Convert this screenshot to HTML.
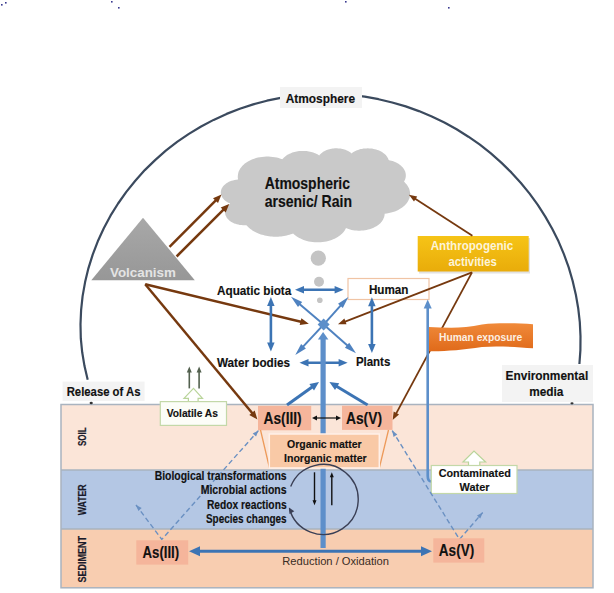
<!DOCTYPE html><html><head><meta charset="utf-8"><style>html,body{margin:0;padding:0;background:#fff;}svg{display:block;font-family:"Liberation Sans",sans-serif;}</style></head><body>
<svg width="614" height="593" viewBox="0 0 614 593">
<defs><linearGradient id="vg" x1="0" y1="0" x2="0" y2="1"><stop offset="0" stop-color="#a8a8a8"/><stop offset="1" stop-color="#979797"/></linearGradient><linearGradient id="ag" x1="0" y1="0" x2="0" y2="1"><stop offset="0" stop-color="#f6c417"/><stop offset="1" stop-color="#e9ac0a"/></linearGradient><linearGradient id="hg" x1="0" y1="0" x2="0" y2="1"><stop offset="0" stop-color="#f08a3a"/><stop offset="1" stop-color="#e06a1a"/></linearGradient></defs>
<rect x="1" y="4" width="1.6" height="1.6" fill="#3a3a90"/>
<rect x="5" y="2" width="1.6" height="1.6" fill="#3a3a90"/>
<rect x="111" y="1" width="1.6" height="1.6" fill="#3a3a90"/>
<rect x="118" y="7" width="1.6" height="1.6" fill="#3a3a90"/>
<rect x="345" y="1" width="1.6" height="1.6" fill="#3a3a90"/>
<rect x="448" y="7" width="1.6" height="1.6" fill="#3a3a90"/>
<path d="M87.7,379.7 L84.5,366.1 L82.2,352.3 L80.8,338.4 L80.5,324.3 L81.1,310.2 L82.6,296.1 L85.1,282.1 L88.4,268.3 L92.7,254.6 L97.8,241.3 L103.8,228.3 L110.5,215.7 L118.1,203.5 L126.3,191.9 L135.3,180.7 L144.8,170.1 L155.1,160.1 L165.8,150.7 L177.1,141.9 L188.9,133.9 L201.1,126.5 L213.6,119.9 L226.6,113.9 L239.8,108.8 L253.2,104.4 L266.9,100.7 L280.7,97.8 L294.7,95.7 L308.7,94.4 L322.8,93.8 L336.9,94.0 L350.9,95.0 L364.8,96.7 L378.6,99.2 L392.2,102.5 L405.7,106.4 L418.9,111.1 L431.8,116.5 L444.4,122.5 L456.6,129.3 L468.4,136.7 L479.9,144.7 L490.9,153.4 L501.3,162.6 L511.3,172.4 L520.7,182.7 L529.6,193.6 L537.8,204.9 L545.3,216.6 L552.2,228.8 L558.5,241.3 L563.9,254.2 L568.7,267.4 L572.6,280.8 L575.8,294.4 L578.2,308.2 L579.8,322.1 L580.5,336.1 L580.4,350.1 L579.4,364.0" fill="none" stroke="#3b4a5e" stroke-width="2.2" stroke-linejoin="round"/>
<rect x="61" y="404" width="532" height="66" fill="#fbe5d8"/>
<rect x="61" y="470" width="532" height="59" fill="#b4c7e4"/>
<rect x="61" y="529" width="532" height="59" fill="#f8cdb0"/>
<g stroke="#a9b3bf" stroke-width="1.5" fill="none"><rect x="61" y="404.5" width="532" height="183.3"/><line x1="61" y1="470" x2="593" y2="470"/><line x1="61" y1="529" x2="593" y2="529"/></g>
<text transform="translate(86.2,436.7) rotate(-90)" font-size="11" font-weight="bold" fill="#1a1a2a" stroke="#1a1a2a" stroke-width="0.2" x="-9.3" y="0" textLength="18.6" lengthAdjust="spacingAndGlyphs">SOIL</text>
<text transform="translate(86.2,499.8) rotate(-90)" font-size="11" font-weight="bold" fill="#1a1a2a" stroke="#1a1a2a" stroke-width="0.2" x="-15.5" y="0" textLength="31.0" lengthAdjust="spacingAndGlyphs">WATER</text>
<text transform="translate(86.2,559.3) rotate(-90)" font-size="11" font-weight="bold" fill="#1a1a2a" stroke="#1a1a2a" stroke-width="0.2" x="-23.2" y="0" textLength="46.5" lengthAdjust="spacingAndGlyphs">SEDIMENT</text>
<ellipse cx="91.2" cy="403" rx="1.6" ry="1.2" fill="#333"/><ellipse cx="572" cy="403.3" rx="1.6" ry="1.1" fill="#333"/>
<rect x="280" y="87" width="82" height="21" fill="#f3f3f3"/>
<text x="285.7" y="103.0" font-size="12.5" font-weight="bold" fill="#111" textLength="69.3" lengthAdjust="spacingAndGlyphs" stroke="#111" stroke-width="0.15">Atmosphere</text>
<rect x="62.6" y="381.6" width="82" height="19.4" fill="#f3f3f3"/>
<text x="66.7" y="396.0" font-size="12.5" font-weight="bold" fill="#111" textLength="73.8" lengthAdjust="spacingAndGlyphs" stroke="#111" stroke-width="0.15">Release of As</text>
<rect x="502" y="365" width="91" height="37" fill="#f3f3f3"/>
<text x="505.6" y="379.5" font-size="12" font-weight="bold" fill="#111" textLength="82.6" lengthAdjust="spacingAndGlyphs" stroke="#111" stroke-width="0.15">Environmental</text>
<text x="529.2" y="396.0" font-size="12" font-weight="bold" fill="#111" textLength="34.2" lengthAdjust="spacingAndGlyphs" stroke="#111" stroke-width="0.15">media</text>
<path d="M238.1,179.3L237.9,178.5L237.8,177.7L237.8,176.9L237.8,176.1L237.9,175.3L238.0,174.5L238.1,173.7L238.3,172.9L238.5,172.1L238.8,171.3L239.2,170.5L239.6,169.7L240.1,168.8L240.6,168.0L241.3,167.2L242.0,166.3L242.7,165.5L243.6,164.7L244.5,163.8L245.6,163.0L246.8,162.2L248.0,161.4L249.4,160.7L250.9,160.0L252.5,159.3L254.2,158.7L256.0,158.1L257.9,157.6L259.9,157.2L262.0,156.9L264.2,156.7L266.3,156.6L268.5,156.6L270.6,156.7L272.8,156.9L274.8,157.2L276.8,157.6L278.7,158.1L280.6,158.7L282.3,159.3L282.7,158.8L283.1,158.4L283.5,157.9L284.0,157.4L284.6,156.9L285.2,156.5L285.8,156.0L286.4,155.5L287.1,155.1L287.9,154.6L288.7,154.2L289.5,153.8L290.4,153.4L291.4,153.0L292.3,152.6L293.4,152.3L294.4,152.0L295.6,151.7L296.7,151.5L297.9,151.3L299.1,151.1L300.3,151.0L301.6,150.9L302.8,150.9L304.0,150.9L305.3,151.0L306.5,151.1L307.7,151.3L308.9,151.5L310.1,151.7L311.2,152.0L312.3,152.3L313.3,152.6L314.3,152.9L315.2,153.3L316.1,153.7L317.0,154.1L317.8,154.6L318.5,155.0L319.2,155.5L319.6,155.0L319.9,154.6L320.3,154.2L320.8,153.7L321.3,153.3L321.8,152.9L322.3,152.4L322.9,152.0L323.6,151.6L324.3,151.2L325.0,150.8L325.8,150.5L326.6,150.1L327.5,149.8L328.4,149.5L329.4,149.2L330.4,148.9L331.5,148.7L332.6,148.6L333.7,148.4L334.8,148.3L335.9,148.3L337.0,148.3L338.2,148.4L339.3,148.5L340.4,148.6L341.4,148.8L342.5,149.0L343.5,149.2L344.4,149.5L345.4,149.8L346.2,150.2L347.1,150.5L347.8,150.9L348.6,151.3L349.2,151.7L349.9,152.1L350.5,152.5L351.0,153.0L351.5,153.4L352.3,152.8L353.1,152.3L353.9,151.8L354.9,151.3L355.9,150.8L357.0,150.3L358.1,149.9L359.3,149.5L360.6,149.1L362.0,148.9L363.4,148.6L364.8,148.5L366.3,148.4L367.8,148.3L369.2,148.4L370.7,148.5L372.1,148.6L373.5,148.9L374.9,149.2L376.1,149.5L377.4,149.9L378.5,150.3L379.6,150.8L380.6,151.3L381.6,151.8L382.4,152.3L383.2,152.9L384.0,153.4L384.6,154.0L385.2,154.5L385.8,155.1L386.3,155.7L386.7,156.2L387.1,156.8L387.5,157.4L387.8,157.9L388.1,158.5L388.3,159.0L388.5,159.6L388.6,160.1L390.0,160.4L391.4,160.8L392.6,161.1L393.9,161.6L395.0,162.0L396.1,162.5L397.1,163.0L398.0,163.6L398.9,164.1L399.7,164.7L400.4,165.3L401.1,165.8L401.7,166.4L402.3,167.0L402.8,167.6L403.3,168.2L403.7,168.7L404.0,169.3L404.4,169.9L404.7,170.5L404.9,171.0L405.2,171.6L405.3,172.1L405.5,172.7L405.6,173.3L405.7,173.8L405.8,174.4L405.8,174.9L405.8,175.5L405.8,176.0L405.8,176.6L405.7,177.1L405.6,177.7L405.5,178.2L405.3,178.8L405.1,179.4L404.9,179.9L404.6,180.5L404.3,181.1L404.0,181.6L404.9,182.5L405.7,183.4L406.5,184.3L407.2,185.2L407.7,186.0L408.2,186.9L408.7,187.8L409.1,188.6L409.4,189.5L409.6,190.3L409.8,191.2L410.0,192.0L410.1,192.8L410.1,193.7L410.1,194.5L410.0,195.4L409.9,196.2L409.7,197.0L409.5,197.9L409.2,198.7L408.8,199.6L408.4,200.5L408.0,201.3L407.4,202.2L406.8,203.1L406.1,204.0L405.3,204.8L404.4,205.7L403.4,206.6L402.2,207.5L401.0,208.3L399.7,209.1L398.2,209.9L396.6,210.7L394.9,211.4L393.0,212.0L391.1,212.6L389.0,213.1L386.9,213.4L384.6,213.7L384.6,214.3L384.6,215.0L384.5,215.6L384.3,216.2L384.2,216.9L384.0,217.5L383.7,218.1L383.4,218.8L383.1,219.4L382.8,220.1L382.3,220.7L381.9,221.4L381.3,222.0L380.8,222.7L380.1,223.4L379.4,224.0L378.6,224.7L377.8,225.3L376.9,225.9L375.9,226.6L374.8,227.1L373.6,227.7L372.4,228.3L371.0,228.8L369.6,229.2L368.1,229.6L366.6,230.0L365.0,230.3L363.3,230.5L361.6,230.6L359.9,230.7L358.2,230.7L356.5,230.6L354.8,230.4L353.2,230.2L351.6,229.9L350.1,229.5L348.6,229.1L347.2,228.6L345.9,228.1L345.6,228.9L345.2,229.6L344.7,230.4L344.1,231.2L343.6,231.9L342.9,232.7L342.2,233.5L341.3,234.3L340.5,235.0L339.5,235.8L338.4,236.6L337.3,237.3L336.0,238.0L334.6,238.7L333.2,239.3L331.6,240.0L330.0,240.5L328.3,241.0L326.4,241.4L324.5,241.8L322.6,242.1L320.6,242.2L318.6,242.3L316.6,242.3L314.6,242.2L312.6,242.0L310.6,241.8L308.7,241.4L306.9,241.0L305.2,240.5L303.6,239.9L302.0,239.3L300.6,238.6L299.2,238.0L298.0,237.2L296.8,236.5L295.8,235.7L294.8,235.0L293.9,234.2L293.1,233.4L291.9,233.9L290.7,234.3L289.5,234.7L288.1,235.1L286.8,235.4L285.4,235.7L284.0,236.0L282.5,236.2L281.1,236.4L279.6,236.6L278.1,236.7L276.5,236.7L275.0,236.7L273.5,236.7L272.0,236.6L270.5,236.4L269.0,236.3L267.6,236.0L266.1,235.8L264.7,235.5L263.4,235.1L262.1,234.8L260.8,234.4L259.6,233.9L258.4,233.5L257.3,233.0L256.2,232.5L255.2,232.0L254.2,231.5L253.3,230.9L252.4,230.4L251.6,229.8L250.8,229.2L250.0,228.7L249.3,228.1L248.7,227.5L248.0,226.9L247.5,226.3L246.9,225.8L246.4,225.2L244.7,225.3L243.1,225.2L241.5,225.1L239.8,224.9L238.3,224.6L236.8,224.3L235.5,223.8L234.2,223.4L233.0,222.8L231.9,222.3L230.9,221.7L230.0,221.0L229.3,220.4L228.6,219.8L227.9,219.1L227.4,218.5L226.9,217.9L226.5,217.2L226.2,216.6L225.9,216.0L225.6,215.4L225.4,214.8L225.3,214.1L225.2,213.5L225.1,212.9L225.1,212.3L225.1,211.7L225.2,211.1L225.3,210.5L225.5,209.9L225.7,209.3L225.9,208.6L226.2,208.0L226.6,207.4L227.0,206.8L227.5,206.1L228.1,205.5L228.7,204.8L229.4,204.2L230.2,203.6L229.0,203.0L227.8,202.5L226.8,201.8L225.9,201.2L225.0,200.5L224.3,199.9L223.7,199.2L223.1,198.6L222.6,197.9L222.2,197.2L221.9,196.6L221.6,195.9L221.3,195.3L221.1,194.7L221.0,194.0L220.9,193.4L220.8,192.8L220.8,192.1L220.9,191.5L221.0,190.9L221.1,190.2L221.3,189.6L221.5,189.0L221.8,188.3L222.2,187.7L222.6,187.0L223.1,186.3L223.6,185.7L224.3,185.0L225.0,184.4L225.8,183.7L226.8,183.1L227.8,182.4L228.9,181.8L230.2,181.3L231.5,180.8L233.0,180.4L234.6,180.0L236.2,179.7L237.9,179.6Z" fill="#c9c9c9"/>
<text x="264.7" y="188.8" font-size="17" font-weight="bold" fill="#111" textLength="85.3" lengthAdjust="spacingAndGlyphs" stroke="#111" stroke-width="0.15">Atmospheric</text>
<text x="264.7" y="206.6" font-size="17" font-weight="bold" fill="#111" textLength="87.3" lengthAdjust="spacingAndGlyphs" stroke="#111" stroke-width="0.15">arsenic/ Rain</text>
<circle cx="318.3" cy="258.2" r="7.6" fill="#c4c4c4"/><circle cx="319" cy="281.7" r="5" fill="#c4c4c4"/><circle cx="319.8" cy="300.3" r="2.8" fill="#c4c4c4"/>
<polygon points="143,217.8 91.3,280.2 194.8,280.2" fill="url(#vg)"/>
<text x="110.0" y="277.0" font-size="12" font-weight="bold" fill="#e4e4e4" textLength="65.9" lengthAdjust="spacingAndGlyphs">Volcanism</text>
<rect x="419" y="238" width="111" height="35.5" fill="#cfcfcf" opacity="0.6"/>
<rect x="417.7" y="236" width="111" height="35.5" fill="url(#ag)"/>
<text x="430.7" y="249.8" font-size="12" font-weight="bold" fill="#fdf4d8" textLength="82.6" lengthAdjust="spacingAndGlyphs">Anthropogenic</text>
<text x="448.4" y="266.0" font-size="12" font-weight="bold" fill="#fdf4d8" textLength="48.4" lengthAdjust="spacingAndGlyphs">activities</text>
<rect x="348" y="278.5" width="81" height="21" fill="#fff" stroke="#f0c4a4" stroke-width="1.2"/>
<text x="368.9" y="293.7" font-size="12" font-weight="bold" fill="#111" textLength="39.6" lengthAdjust="spacingAndGlyphs" stroke="#111" stroke-width="0.15">Human</text>
<line x1="169.5" y1="246.8" x2="217.3" y2="198.8" stroke="#76390f" stroke-width="2.5"/><polygon points="221.5,194.6 218.0,203.1 213.0,198.2" fill="#76390f"/>
<line x1="176.6" y1="256.5" x2="225.0" y2="208.1" stroke="#76390f" stroke-width="2.5"/><polygon points="229.2,203.9 225.7,212.4 220.7,207.4" fill="#76390f"/>
<line x1="145.2" y1="284.3" x2="303.0" y2="322.3" stroke="#76390f" stroke-width="2.5"/><polygon points="308.8,323.7 299.7,325.1 301.4,318.3" fill="#76390f"/>
<line x1="145.2" y1="284.3" x2="253.6" y2="414.8" stroke="#76390f" stroke-width="2.5"/><polygon points="257.4,419.4 249.3,415.1 254.7,410.6" fill="#76390f"/>
<line x1="472.4" y1="235.7" x2="413.6" y2="197.7" stroke="#76390f" stroke-width="1.8"/><polygon points="408.9,194.7 417.2,196.5 414.0,201.6" fill="#76390f"/>
<line x1="472.0" y1="272.4" x2="343.2" y2="322.3" stroke="#76390f" stroke-width="1.8"/><polygon points="338.0,324.3 344.4,318.6 346.5,324.2" fill="#76390f"/>
<line x1="472.0" y1="272.4" x2="395.3" y2="415.1" stroke="#76390f" stroke-width="1.8"/><polygon points="392.6,420.0 393.7,411.5 399.0,414.4" fill="#76390f"/>
<line x1="301.3" y1="289.8" x2="337.3" y2="289.8" stroke="#3c74b4" stroke-width="2.6"/><polygon points="343.6,289.8 334.6,293.6 334.6,286.1" fill="#3c74b4"/><polygon points="295.0,289.8 304.0,286.1 304.0,293.6" fill="#3c74b4"/>
<line x1="270.9" y1="303.2" x2="270.9" y2="345.3" stroke="#3c74b4" stroke-width="2.6"/><polygon points="270.9,351.6 267.1,342.6 274.6,342.6" fill="#3c74b4"/><polygon points="270.9,296.9 274.6,305.9 267.1,305.9" fill="#3c74b4"/>
<line x1="371.9" y1="303.6" x2="371.9" y2="346.7" stroke="#3c74b4" stroke-width="2.6"/><polygon points="371.9,353.0 368.1,344.0 375.6,344.0" fill="#3c74b4"/><polygon points="371.9,297.3 375.6,306.3 368.1,306.3" fill="#3c74b4"/>
<line x1="305.8" y1="362.8" x2="341.3" y2="362.8" stroke="#3c74b4" stroke-width="2.6"/><polygon points="347.6,362.8 338.6,366.6 338.6,359.1" fill="#3c74b4"/><polygon points="299.5,362.8 308.5,359.1 308.5,366.6" fill="#3c74b4"/>
<line x1="323.6" y1="324.6" x2="297.4" y2="302.2" stroke="#4f82c0" stroke-width="2"/><polygon points="291.0,296.7 302.2,302.0 298.0,307.0" fill="#4f82c0"/>
<line x1="323.6" y1="324.6" x2="342.8" y2="303.2" stroke="#4f82c0" stroke-width="2"/><polygon points="348.4,297.0 342.8,308.1 338.0,303.8" fill="#4f82c0"/>
<line x1="323.6" y1="324.6" x2="301.0" y2="348.9" stroke="#4f82c0" stroke-width="2"/><polygon points="295.3,355.0 301.1,344.0 305.9,348.4" fill="#4f82c0"/>
<line x1="323.6" y1="324.6" x2="349.7" y2="347.6" stroke="#4f82c0" stroke-width="2"/><polygon points="356.0,353.2 344.9,347.7 349.2,342.8" fill="#4f82c0"/>
<polygon points="323.6,318.6 329.6,324.6 323.6,330.6 317.6,324.6" fill="#5d8fca"/>
<line x1="323.1" y1="548.0" x2="323.1" y2="337.2" stroke="#5d8fca" stroke-width="5.2"/><polygon points="323.1,332.0 328.4,339.5 317.9,339.5" fill="#5d8fca"/>
<line x1="287.0" y1="405.0" x2="313.9" y2="385.7" stroke="#3c74b4" stroke-width="3"/><polygon points="319.0,382.0 314.0,390.5 309.4,384.0" fill="#3c74b4"/>
<line x1="367.6" y1="405.0" x2="334.8" y2="385.2" stroke="#3c74b4" stroke-width="3"/><polygon points="329.4,382.0 339.2,383.2 335.0,390.1" fill="#3c74b4"/>
<text x="217.0" y="294.7" font-size="12" font-weight="bold" fill="#111" textLength="74.3" lengthAdjust="spacingAndGlyphs" stroke="#111" stroke-width="0.15">Aquatic biota</text>
<text x="217.0" y="366.8" font-size="12" font-weight="bold" fill="#111" textLength="73.0" lengthAdjust="spacingAndGlyphs" stroke="#111" stroke-width="0.15">Water bodies</text>
<text x="355.9" y="366.2" font-size="12" font-weight="bold" fill="#111" textLength="34.4" lengthAdjust="spacingAndGlyphs" stroke="#111" stroke-width="0.15">Plants</text>
<path d="M428.8,327 C445,327.5 462,329 482,324.5 C500,322.5 518,323.5 533,324.2 L533,348.2 C518,347.5 500,345.5 482,347 C462,350 445,351.5 428.8,351.2 Z" fill="url(#hg)"/>
<text x="439.0" y="341.2" font-size="11" font-weight="bold" fill="#fcefe2" textLength="83.3" lengthAdjust="spacingAndGlyphs">Human exposure</text>
<path d="M427.7,308 L427.7,476 Q427.7,481.5 431.5,481.5" stroke="#5d8fca" stroke-width="2.6" fill="none"/>
<polygon points="427.7,299.4 431.7,308.4 423.7,308.4" fill="#5d8fca"/>
<path d="M468.5,465.5 L468.5,462 L463,462 L474,451 L485.6,462 L479.8,462 L479.8,465.5" fill="#fff" stroke="#b9d49a" stroke-width="1.2"/>
<rect x="431.3" y="465.5" width="85.7" height="28" fill="#fff" stroke="#c3d8a8" stroke-width="1.2"/>
<text x="438.7" y="477.0" font-size="11.5" font-weight="bold" fill="#111" textLength="72.1" lengthAdjust="spacingAndGlyphs" stroke="#111" stroke-width="0.15">Contaminated</text>
<text x="459.5" y="490.6" font-size="11.5" font-weight="bold" fill="#111" textLength="30.0" lengthAdjust="spacingAndGlyphs" stroke="#111" stroke-width="0.15">Water</text>
<path d="M188.4,401.6 L188.4,398.3 L184,398.3 L193.5,388.4 L202.5,398.3 L198.1,398.3 L198.1,401.6" fill="#fff" stroke="#b9d49a" stroke-width="1.2"/>
<rect x="160.3" y="401.6" width="66.2" height="23.8" fill="#fcfdf8" stroke="#c3d8a8" stroke-width="1.2"/>
<text x="166.7" y="417.0" font-size="11.5" font-weight="bold" fill="#111" textLength="51.3" lengthAdjust="spacingAndGlyphs" stroke="#111" stroke-width="0.15">Volatile As</text>
<line x1="189.3" y1="388.4" x2="189.3" y2="370.6" stroke="#53614f" stroke-width="1.6"/><polygon points="189.3,366.4 191.8,372.4 186.8,372.4" fill="#53614f"/>
<line x1="199.1" y1="388.4" x2="199.1" y2="370.6" stroke="#53614f" stroke-width="1.6"/><polygon points="199.1,366.4 201.6,372.4 196.6,372.4" fill="#53614f"/>
<rect x="258" y="405.9" width="53.2" height="24.4" fill="#f5b59b"/>
<text x="263.6" y="424.2" font-size="16" font-weight="bold" fill="#111" textLength="38.1" lengthAdjust="spacingAndGlyphs" stroke="#111" stroke-width="0.15">As(III)</text>
<rect x="342" y="405.8" width="50.5" height="24.1" fill="#f5b59b"/>
<text x="346.0" y="424.2" font-size="16" font-weight="bold" fill="#111" textLength="36.0" lengthAdjust="spacingAndGlyphs" stroke="#111" stroke-width="0.15">As(V)</text>
<line x1="315.5" y1="418.0" x2="337.5" y2="418.0" stroke="#111" stroke-width="1.2"/><polygon points="341.0,418.0 336.0,420.5 336.0,415.5" fill="#111"/><polygon points="312.0,418.0 317.0,415.5 317.0,420.5" fill="#111"/>
<path d="M260.5,430 L269.5,468 M388.5,430 L379.3,468" stroke="#ed9a5a" stroke-width="1.3"/>
<rect x="269.3" y="434" width="110" height="34" fill="#f9c9a6" stroke="#fff0e8" stroke-width="1.5"/>
<text x="287.0" y="448.0" font-size="11.5" font-weight="bold" fill="#111" textLength="74.7" lengthAdjust="spacingAndGlyphs" stroke="#111" stroke-width="0.15">Organic matter</text>
<text x="284.0" y="462.0" font-size="11.5" font-weight="bold" fill="#111" textLength="82.7" lengthAdjust="spacingAndGlyphs" stroke="#111" stroke-width="0.15">Inorganic matter</text>
<polyline points="136,505 161.8,539.4 258.4,430.6" fill="none" stroke="#6a90c2" stroke-width="1.4" stroke-dasharray="5,3"/>
<polygon points="136.0,505.0 141.7,507.9 138.4,510.9" fill="#6a90c2"/>
<polygon points="258.4,430.6 256.1,436.6 252.7,433.6" fill="#6a90c2"/>
<polyline points="392.2,430.6 459.5,539.4 482.7,512.5" fill="none" stroke="#6a90c2" stroke-width="1.4" stroke-dasharray="5,3"/>
<polygon points="392.2,430.6 397.3,434.5 393.5,436.9" fill="#6a90c2"/>
<polygon points="482.7,512.5 480.3,518.5 477.0,515.4" fill="#6a90c2"/>
<path d="M290.7,486.5 A35,35 0 1 1 289.4,508.5" fill="none" stroke="#3a3f55" stroke-width="1.4"/>
<polygon points="288.9,507.5 294.3,511.3 289.5,514.1" fill="#3a3f55"/>
<line x1="314.5" y1="472.3" x2="314.5" y2="501.8" stroke="#111" stroke-width="1.4"/><polygon points="314.5,505.3 312.5,500.3 316.5,500.3" fill="#111"/>
<line x1="331.8" y1="505.3" x2="331.8" y2="475.8" stroke="#111" stroke-width="1.4"/><polygon points="331.8,472.3 333.8,477.3 329.8,477.3" fill="#111"/>
<text x="154.7" y="479.8" font-size="12" font-weight="bold" fill="#111" textLength="131.9" lengthAdjust="spacingAndGlyphs" stroke="#111" stroke-width="0.15">Biological transformations</text>
<text x="200.7" y="493.6" font-size="12" font-weight="bold" fill="#111" textLength="85.9" lengthAdjust="spacingAndGlyphs" stroke="#111" stroke-width="0.15">Microbial actions</text>
<text x="206.9" y="508.6" font-size="12" font-weight="bold" fill="#111" textLength="79.7" lengthAdjust="spacingAndGlyphs" stroke="#111" stroke-width="0.15">Redox reactions</text>
<text x="206.0" y="523.0" font-size="12" font-weight="bold" fill="#111" textLength="80.6" lengthAdjust="spacingAndGlyphs" stroke="#111" stroke-width="0.15">Species changes</text>
<line x1="196.7" y1="551.2" x2="424.3" y2="551.2" stroke="#3c74b4" stroke-width="3"/><polygon points="432.0,551.2 421.0,556.2 421.0,546.2" fill="#3c74b4"/><polygon points="189.0,551.2 200.0,546.2 200.0,556.2" fill="#3c74b4"/>
<rect x="136.3" y="540.3" width="51.9" height="24.3" fill="#f5b59b"/>
<text x="142.5" y="558.0" font-size="16" font-weight="bold" fill="#111" textLength="36.7" lengthAdjust="spacingAndGlyphs" stroke="#111" stroke-width="0.15">As(III)</text>
<rect x="433.3" y="538.3" width="51" height="24.3" fill="#f5b59b"/>
<text x="438.8" y="555.9" font-size="16" font-weight="bold" fill="#111" textLength="35.4" lengthAdjust="spacingAndGlyphs" stroke="#111" stroke-width="0.15">As(V)</text>
<text x="282.3" y="564.8" font-size="11.5" font-weight="normal" fill="#3a2c24" textLength="106.7" lengthAdjust="spacingAndGlyphs">Reduction / Oxidation</text>
</svg></body></html>
